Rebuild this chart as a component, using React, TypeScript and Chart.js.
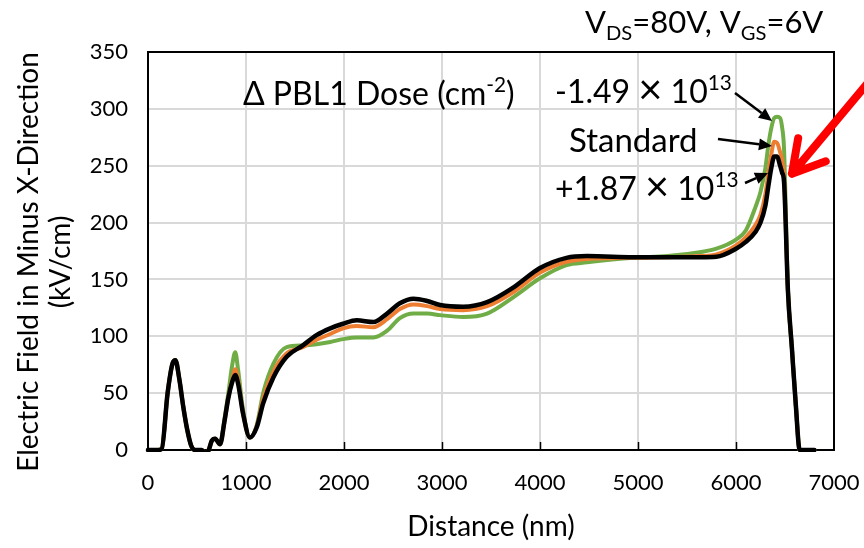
import React, { useEffect, useRef } from "react";
import { Chart, registerables } from "chart.js";

Chart.register(...registerables);

// ---------- DATA ----------
const distanceNm = [
  0, 100, 140, 200, 250, 280, 320, 360, 400, 440, 480, 550, 585, 620, 650, 685, 735, 780, 820, 860, 890, 920, 970,
  1040, 1110, 1175, 1280, 1415, 1580, 1720, 1860, 1990, 2130, 2300, 2440, 2570, 2710, 2850, 2980, 3215, 3460, 3730,
  4000, 4270, 4480, 4950, 5300, 5630, 5800, 6000, 6100, 6200, 6250, 6300, 6330, 6360, 6390, 6420, 6450, 6470, 6490,
  6530, 6570, 6610, 6650, 6700, 6800,
];

// +1.87 x 10^13 (black)
const fieldPlus187 = [
  0, 0, 1, 50, 76, 79, 62, 38, 18, 4, 0, 0, -4, 0, 8, 10, 5, 25, 46, 60, 66, 58, 32,
  11, 20, 41, 64, 82, 92, 101, 107, 111, 114, 112.5, 120, 129, 133, 131, 127.5, 126, 130, 143,
  160, 169, 170.5, 169.6, 169.5, 169.6, 170, 177, 183, 192, 200, 215, 232, 248, 258, 258, 250, 244, 236,
  140, 90, 40, 0, 0, 0,
];

// Standard (orange)
const fieldStandard = [
  0, 0, 1, 50, 76, 79, 62, 38, 18, 4, 0, 0, -4, 0, 8, 10, 5, 25, 46, 62, 71, 61, 32,
  11, 21, 45, 69, 85, 90.5, 97, 102, 107, 109, 108, 115, 124, 128, 126.5, 124, 123, 126.5, 139,
  156, 165.5, 168, 169, 169.5, 170.5, 172, 180, 187, 198, 207, 225, 243, 260, 271, 270, 262, 255, 240,
  140, 90, 40, 0, 0, 0,
];

// -1.49 x 10^13 (green)
const fieldMinus149 = [
  0, 0, 1, 50, 76, 79, 62, 38, 18, 4, 0, 0, -4, 0, 8, 10, 5, 27, 50, 75, 86, 70, 35,
  11, 22, 50, 76, 90.5, 92, 93, 95, 97.5, 99, 99, 105, 116, 120, 120, 118.6, 117, 120, 134.5,
  151, 162.6, 165, 169, 170.5, 174, 177, 185, 193, 214, 227, 248, 268, 283, 292, 293, 292, 284, 265,
  140, 90, 40, 0, 0, 0,
];

const xMin = 0;
const xMax = 7000;
const xStep = 1000;
const yMin = 0;
const yMax = 350;
const yStep = 50;

const xTitle = "Distance (nm)";
const yTitleLines = ["Electric Field in Minus X-Direction", "(kV/cm)"];

// ---------- STYLE / ANNOTATIONS ----------
const FONT = 'Lato, "Open Sans", sans-serif';
const TITLE_SIZE = 28;
const TICK_SIZE = 22;

type Part = { t: string; sub?: boolean; sup?: boolean; big?: boolean };
type Note = { x: number; y: number; size: number; parts: Part[] };

// note anchors given in data units (left, baseline)
const notes: Note[] = [
  { x: 4459, y: 366.7, size: 31, parts: [{ t: "V" }, { t: "DS", sub: true }, { t: "=80V, V" }, { t: "GS", sub: true }, { t: "=6V" }] },
  { x: 969, y: 303.4, size: 32, parts: [{ t: "\u0394 PBL1 Dose (cm" }, { t: "-2", sup: true }, { t: ")" }] },
  { x: 4153, y: 305.2, size: 32, parts: [{ t: "-1.49 " }, { t: "\u00D7", big: true }, { t: " 10" }, { t: "13", sup: true }] },
  { x: 4296, y: 262.1, size: 33, parts: [{ t: "Standard" }] },
  { x: 4153, y: 219.9, size: 32, parts: [{ t: "+1.87 " }, { t: "\u00D7", big: true }, { t: " 10" }, { t: "13", sup: true }] },
];

// arrows in data units: [x1, y1, x2(tip), y2(tip)]
const blackArrows = [
  [5990, 314, 6367, 289.4],
  [5816, 273.5, 6367, 267.3],
  [6092, 234.8, 6327, 243.6],
];
const redArrow = [7367, 325, 6571, 243];

function drawRich(ctx: CanvasRenderingContext2D, parts: Part[], x: number, y: number, size: number) {
  let cx = x;
  ctx.textBaseline = "alphabetic";
  ctx.textAlign = "left";
  ctx.fillStyle = "#000";
  for (const p of parts) {
    const s = p.sub || p.sup ? size * 0.65 : p.big ? size * 1.3 : size;
    ctx.font = `${s}px ${FONT}`;
    const dy = p.sub ? size * 0.22 : p.sup ? -size * 0.4 : p.big ? size * 0.03 : 0;
    ctx.fillText(p.t, cx, y + dy);
    cx += ctx.measureText(p.t).width;
  }
}

function drawArrow(ctx: CanvasRenderingContext2D, x1: number, y1: number, x2: number, y2: number) {
  const ang = Math.atan2(y2 - y1, x2 - x1);
  const headLen = 13;
  const headHalf = 6;
  const bx = x2 - headLen * Math.cos(ang);
  const by = y2 - headLen * Math.sin(ang);
  ctx.strokeStyle = "#000";
  ctx.fillStyle = "#000";
  ctx.lineWidth = 2.5;
  ctx.lineCap = "butt";
  ctx.beginPath();
  ctx.moveTo(x1, y1);
  ctx.lineTo(bx, by);
  ctx.stroke();
  ctx.beginPath();
  ctx.moveTo(x2, y2);
  ctx.lineTo(bx + headHalf * Math.sin(ang), by - headHalf * Math.cos(ang));
  ctx.lineTo(bx - headHalf * Math.sin(ang), by + headHalf * Math.cos(ang));
  ctx.closePath();
  ctx.fill();
}

function drawOpenArrow(ctx: CanvasRenderingContext2D, x1: number, y1: number, x2: number, y2: number) {
  const back = Math.atan2(y1 - y2, x1 - x2);
  const barb = 36;
  const spread = Math.PI / 6;
  ctx.strokeStyle = "#FF0000";
  ctx.lineWidth = 8;
  ctx.lineCap = "round";
  ctx.lineJoin = "round";
  ctx.beginPath();
  ctx.moveTo(x1, y1);
  ctx.lineTo(x2, y2);
  ctx.moveTo(x2 + barb * Math.cos(back + spread), y2 + barb * Math.sin(back + spread));
  ctx.lineTo(x2, y2);
  ctx.lineTo(x2 + barb * Math.cos(back - spread), y2 + barb * Math.sin(back - spread));
  ctx.stroke();
}

const overlayPlugin = {
  id: "overlay",
  beforeDatasetsDraw(chart: any) {
    const { ctx, chartArea } = chart;
    const { left, top, right, bottom } = chartArea;
    const xs = chart.scales.x;
    ctx.save();
    ctx.strokeStyle = "#000";
    ctx.lineWidth = 2;
    ctx.strokeRect(left, top, right - left, bottom - top);
    ctx.lineWidth = 1.5;
    for (let v = xMin + xStep; v < xMax; v += xStep) {
      const px = Math.round(xs.getPixelForValue(v)) + 0.5;
      ctx.beginPath();
      ctx.moveTo(px, bottom);
      ctx.lineTo(px, bottom - 8);
      ctx.stroke();
    }
    ctx.restore();
  },
  afterDraw(chart: any) {
    const { ctx, chartArea } = chart;
    const xs = chart.scales.x;
    const ys = chart.scales.y;
    ctx.save();
    // y title
    ctx.fillStyle = "#000";
    ctx.font = `${TITLE_SIZE}px ${FONT}`;
    ctx.textAlign = "center";
    ctx.textBaseline = "middle";
    const cy = (chartArea.top + chartArea.bottom) / 2 + 11;
    yTitleLines.forEach((line, i) => {
      ctx.save();
      ctx.translate(29 + i * 32, cy);
      ctx.rotate(-Math.PI / 2);
      ctx.fillText(line, 0, 0);
      ctx.restore();
    });
    // notes
    for (const n of notes) {
      drawRich(ctx, n.parts, xs.getPixelForValue(n.x), ys.getPixelForValue(n.y), n.size);
    }
    for (const a of blackArrows) {
      drawArrow(ctx, xs.getPixelForValue(a[0]), ys.getPixelForValue(a[1]), xs.getPixelForValue(a[2]), ys.getPixelForValue(a[3]));
    }
    drawOpenArrow(
      ctx,
      xs.getPixelForValue(redArrow[0]),
      ys.getPixelForValue(redArrow[1]),
      xs.getPixelForValue(redArrow[2]),
      ys.getPixelForValue(redArrow[3])
    );
    ctx.restore();
  },
};

function toPoints(ys: number[]) {
  return distanceNm.map((x, i) => ({ x, y: ys[i] }));
}

export default function App() {
  const canvasRef = useRef<HTMLCanvasElement | null>(null);

  useEffect(() => {
    if (!canvasRef.current) return;
    const lineCommon = {
      pointRadius: 0,
      pointHoverRadius: 0,
      cubicInterpolationMode: "monotone" as const,
      borderJoinStyle: "round" as const,
      borderCapStyle: "round" as const,
      fill: false,
      clip: { left: 4, right: 4, top: 4, bottom: 2 },
    };
    const chart = new Chart(canvasRef.current, {
      type: "line",
      data: {
        datasets: [
          { label: "+1.87e13", data: toPoints(fieldPlus187), borderColor: "#000000", borderWidth: 4.5, ...lineCommon },
          { label: "Standard", data: toPoints(fieldStandard), borderColor: "#ED7D31", borderWidth: 4, ...lineCommon },
          { label: "-1.49e13", data: toPoints(fieldMinus149), borderColor: "#70AD47", borderWidth: 4, ...lineCommon },
        ],
      },
      options: {
        animation: false,
        responsive: false,
        devicePixelRatio: 1,
        layout: { padding: { top: 52, right: 30, left: 0, bottom: 0 } },
        plugins: { legend: { display: false }, tooltip: { enabled: false } },
        events: [],
        scales: {
          x: {
            type: "linear",
            min: xMin,
            max: xMax,
            afterFit: (s: any) => {
              s.height = 98;
              s.paddingLeft = 0;
              s.paddingRight = 0;
            },
            border: { display: false },
            grid: { color: "#D9D9D9", lineWidth: 2, drawTicks: false },
            ticks: {
              stepSize: xStep,
              color: "#000",
              font: { family: FONT, size: TICK_SIZE },
              padding: 20,
              maxRotation: 0,
              callback: (v: any) => String(v),
            },
            title: {
              display: true,
              text: xTitle,
              color: "#000",
              font: { family: FONT, size: TITLE_SIZE, lineHeight: 1.1 },
              padding: { top: 0, bottom: 6 },
            },
          },
          y: {
            type: "linear",
            min: yMin,
            max: yMax,
            afterFit: (s: any) => {
              s.width = 148;
              s.paddingTop = 0;
              s.paddingBottom = 0;
            },
            border: { display: false },
            grid: { color: "#D9D9D9", lineWidth: 2, drawTicks: false },
            ticks: {
              stepSize: yStep,
              color: "#000",
              font: { family: FONT, size: TICK_SIZE },
              padding: 20,
              callback: (v: any) => String(v),
            },
          },
        },
      },
      plugins: [overlayPlugin],
    });
    return () => chart.destroy();
  }, []);

  return (
    <div style={{ position: "fixed", left: 0, top: 0, width: 864, height: 548, background: "#fff" }}>
      <canvas ref={canvasRef} width={864} height={548} style={{ display: "block" }} />
    </div>
  );
}
